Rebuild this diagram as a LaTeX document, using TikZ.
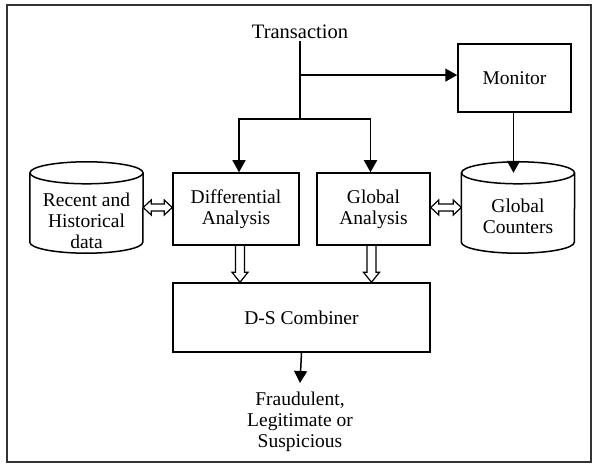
\documentclass[tikz,border=0pt]{standalone}
\usepackage{fontspec}
\setmainfont{Liberation Serif}
\usetikzlibrary{arrows.meta,calc,positioning}
\begin{document}
\begin{tikzpicture}[x=1pt,y=1pt,
  every node/.style={font=\fontsize{19.5}{21}\selectfont, align=center},
  boxnode/.style={draw, line width=1.5pt, inner sep=0pt},
  cylnode/.style={inner sep=0pt, minimum width=113pt, minimum height=91pt},
  ln/.style={line width=1.5pt},
  arr/.style={line width=1.5pt, -{Triangle[length=12pt,width=13pt]}},
  hol/.style={line width=1.2pt, line join=miter}
]
\useasboundingbox (0,0) rectangle (597,464);
\draw[line width=1.3pt, draw=black!80] (7,2) rectangle (591,459);

% nodes
\node (trans) [inner sep=2pt, font=\fontsize{20.5}{22}\selectfont] at (300,432) {Transaction};
\node (mon) [boxnode, minimum width=113pt, minimum height=68pt] at (514.5,386) {Monitor};
\node (diff) [boxnode, minimum width=126pt, minimum height=72pt] at (236,255) {Differential\\Analysis};
\node (glob) [boxnode, minimum width=113pt, minimum height=72pt] at (373.5,255) {Global\\Analysis};
\node (comb) [boxnode, minimum width=257pt, minimum height=69pt] at (301.5,146.5) {D-S Combiner};
\node (cylL) [cylnode] at (86.5,256.5) {};
\node (cylR) [cylnode] at (518,256.5) {};
\node (cylLt) at ([yshift=-13pt]cylL.center) {Recent and\\Historical\\data};
\node (cylRt) at ([yshift=-9pt]cylR.center) {Global\\Counters};
\node (out) [anchor=north, inner sep=2pt] at (300,74) {Fraudulent,\\Legitimate or\\Suspicious};

% cylinders
\foreach \c in {cylL,cylR}{
  \draw[ln] ([yshift=-11pt]\c.north west) -- ([yshift=11pt]\c.south west)
    arc[start angle=180, end angle=360, x radius=56.5pt, y radius=11pt]
    -- ([yshift=-11pt]\c.north east);
  \draw[ln] ([yshift=-11pt]\c.north) ellipse[x radius=56.5pt, y radius=11pt];
}

% transaction flow
\coordinate (j1) at ([yshift=-34pt]trans.south);
\coordinate (j2) at ([yshift=-78pt]trans.south);
\draw[ln] (trans.south) -- (j2);
\draw[arr] (j1) -- (j1 -| mon.west);
\draw[arr] (j2) -| ([xshift=3pt]diff.north);
\draw[arr] (j2) -| ([xshift=-3pt]glob.north);
\coordinate (cylRtop) at ([yshift=-11pt]cylR.north);
\draw[arr] ([xshift=-1pt]mon.south) -- ([xshift=-1pt]mon.south |- cylRtop);
\draw[arr] (comb.south) -- ([yshift=7pt]out.north);

% hollow vertical arrows
\coordinate (da) at ([xshift=4pt]diff.south);
\coordinate (db) at (da |- comb.north);
\coordinate (ga) at ([xshift=-2pt]glob.south);
\coordinate (gb) at (ga |- comb.north);
\foreach \a/\b in {da/db,ga/gb}{
  \draw[hol] ($(\a)+(-4.5,0)$) -- ($(\b)+(-4.5,10)$) -- ($(\b)+(-8,10)$) -- (\b)
    -- ($(\b)+(8,10)$) -- ($(\b)+(4.5,10)$) -- ($(\a)+(4.5,0)$);
}

% hollow horizontal double arrows
\coordinate (la) at (cylL.east);
\coordinate (lb) at (cylL.east -| diff.west);
\coordinate (ra) at (cylR.west -| glob.east);
\coordinate (rb) at (cylR.west);
\foreach \A/\B in {la/lb,ra/rb}{
  \draw[hol] (\A) -- ($(\A)+(8,7.5)$) -- ($(\A)+(8,3.5)$) -- ($(\B)+(-8,3.5)$)
    -- ($(\B)+(-8,7.5)$) -- (\B) -- ($(\B)+(-8,-7.5)$) -- ($(\B)+(-8,-3.5)$)
    -- ($(\A)+(8,-3.5)$) -- ($(\A)+(8,-7.5)$) -- cycle;
}
\end{tikzpicture}
\end{document}
